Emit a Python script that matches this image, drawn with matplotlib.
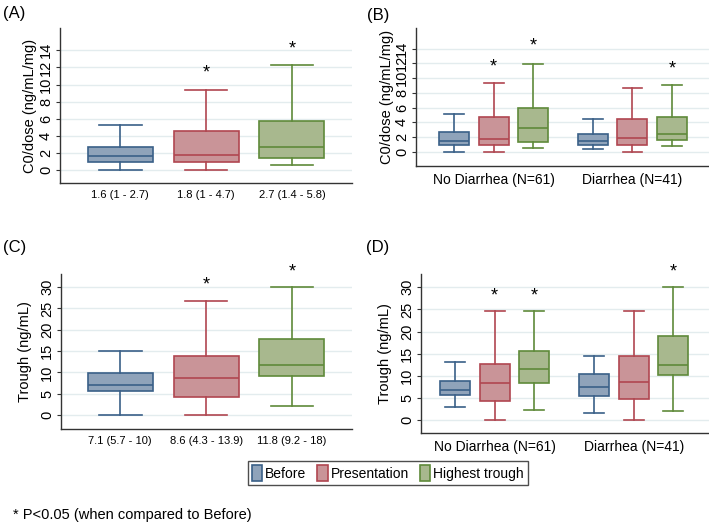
import matplotlib
matplotlib.use('Agg')
import matplotlib.pyplot as plt
from matplotlib.patches import Patch
from matplotlib.transforms import ScaledTranslation

plt.rcParams['font.family'] = ['Liberation Sans', 'DejaVu Sans']

# box stats: (whislo, q1, med, q3, whishi)
series = ['Before', 'Presentation', 'Highest trough']
fills = ['#8fa3ba', '#c99498', '#a8b88e']
edges = ['#3a6088', '#b04650', '#5f8a3a']

a_labels = ['1.6 (1 - 2.7)', '1.8 (1 - 4.7)', '2.7 (1.4 - 5.8)']
a_stats = [(0, 0.97, 1.6, 2.76, 5.25),
           (0, 1.0, 1.8, 4.6, 9.4),
           (0.6, 1.4, 2.7, 5.8, 12.3)]
a_stars = [None, 11.3, 14.1]

groups = ['No Diarrhea (N=61)', 'Diarrhea (N=41)']
b_stats = [[(0, 1.0, 1.5, 2.7, 5.2), (0, 0.9, 1.7, 4.8, 9.4), (0.6, 1.4, 3.3, 5.9, 11.9)],
           [(0.4, 1.0, 1.5, 2.5, 4.4), (0, 1.0, 1.9, 4.5, 8.6), (0.8, 1.6, 2.5, 4.8, 9.1)]]
b_stars = [[None, 11.5, 14.3], [None, None, 11.3]]

c_labels = ['7.1 (5.7 - 10)', '8.6 (4.3 - 13.9)', '11.8 (9.2 - 18)']
c_stats = [(0, 5.7, 7.0, 9.9, 15.0),
           (0, 4.3, 8.6, 13.9, 26.8),
           (2.0, 9.2, 11.7, 17.9, 30.0)]
c_stars = [None, 30.5, 33.6]

d_stats = [[(2.9, 5.8, 6.9, 8.8, 13.1), (0, 4.3, 8.5, 12.7, 24.6), (2.3, 8.5, 11.5, 15.6, 24.6)],
           [(1.7, 5.5, 7.5, 10.5, 14.4), (0, 4.7, 8.6, 14.6, 24.6), (2.0, 10.2, 12.4, 19.1, 30.0)]]
d_stars = [[None, 28.1, 28.1], [None, None, 33.5]]

c0_ticks = [0, 2, 4, 6, 8, 10, 12, 14]
trough_ticks = [0, 5, 10, 15, 20, 25, 30]


def to_dict(s):
    return dict(whislo=s[0], q1=s[1], med=s[2], q3=s[3], whishi=s[4], fliers=[])


def draw_box(ax, pos, s, k, width):
    b = ax.bxp([to_dict(s)], positions=[pos], widths=width, capwidths=width * 0.66,
               patch_artist=True, showfliers=False, manage_ticks=False)
    for p in b['boxes']:
        p.set_facecolor(fills[k])
        p.set_edgecolor(edges[k])
        p.set_linewidth(1.2)
    for key in ['whiskers', 'caps', 'medians']:
        for ln in b[key]:
            ln.set_color(edges[k])
            ln.set_linewidth(1.2)


def star(ax, x, y):
    ax.text(x, y, '*', ha='center', va='center', fontsize=13, clip_on=False)


def style(ax, ticks, ylim, xlim, ylabel, label_x):
    ax.set_ylim(*ylim)
    ax.set_xlim(*xlim)
    ax.set_yticks(ticks)
    ax.set_yticklabels([str(t) for t in ticks], rotation=90, va='center', fontsize=10.5)
    ax.set_ylabel(ylabel, fontsize=10.5)
    ax.yaxis.set_label_coords(label_x, 0.5)
    for t in ticks:
        ax.axhline(t, color='#e3ecee', lw=1, zorder=0)
    for sp in ['top', 'right']:
        ax.spines[sp].set_visible(False)
    for sp in ['left', 'bottom']:
        ax.spines[sp].set_color('#333333')
        ax.spines[sp].set_linewidth(1)
    ax.tick_params(axis='y', length=3, width=0.8, color='#333333', pad=2)
    ax.tick_params(axis='x', length=0, pad=5)


fig = plt.figure(figsize=(7.09, 5.23), dpi=100)
axA = fig.add_axes([0.0846, 0.650, 0.412, 0.2965])
axB = fig.add_axes([0.5867, 0.6826, 0.413, 0.264])
axC = fig.add_axes([0.086, 0.1797, 0.4105, 0.2964])
axD = fig.add_axes([0.5938, 0.172, 0.406, 0.3041])

# single-group panels
shift = ScaledTranslation(-0.09, 0, fig.dpi_scale_trans)
for ax, stats, stars, labels in [(axA, a_stats, a_stars, a_labels), (axC, c_stats, c_stars, c_labels)]:
    for k, s in enumerate(stats):
        draw_box(ax, k + 1, s, k, 0.756)
        if stars[k] is not None:
            star(ax, k + 1, stars[k])
    ax.set_xticks([1, 2, 3])
    ax.set_xticklabels(labels, fontsize=8)
    for lab in ax.get_xticklabels():
        lab.set_transform(lab.get_transform() + shift)

# grouped panels
off = [-0.285, 0, 0.285]
for ax, stats, stars in [(axB, b_stats, b_stars), (axD, d_stats, d_stars)]:
    for g in range(2):
        for k in range(3):
            draw_box(ax, g + 1 + off[k], stats[g][k], k, 0.216)
            if stars[g][k] is not None:
                star(ax, g + 1 + off[k], stars[g][k])
    ax.set_xticks([1, 2])
    ax.set_xticklabels(groups, fontsize=10)

style(axA, c0_ticks, (-1.5, 16.6), (0.30, 3.70), 'C0/dose (ng/mL/mg)', -0.078)
style(axB, c0_ticks, (-1.9, 16.8), (0.44, 2.55), 'C0/dose (ng/mL/mg)', -0.075)
style(axC, trough_ticks, (-3.3, 33.1), (0.31, 3.70), 'Trough (ng/mL)', -0.098)
style(axD, trough_ticks, (-2.9, 33.0), (0.47, 2.54), 'Trough (ng/mL)', -0.10)

fig.text(0.004, 0.975, '(A)', fontsize=12, va='center')
fig.text(0.518, 0.970, '(B)', fontsize=12, va='center')
fig.text(0.004, 0.526, '(C)', fontsize=12, va='center')
fig.text(0.516, 0.526, '(D)', fontsize=12, va='center')

handles = [Patch(facecolor=fills[k], edgecolor=edges[k], linewidth=1.2) for k in range(3)]
leg = fig.legend(handles, series, loc='center', bbox_to_anchor=(0.547, 0.0956), ncol=3,
                 fontsize=10, frameon=True, fancybox=False, edgecolor='#222222',
                 handlelength=0.75, handleheight=1.4, handletextpad=0.2, columnspacing=0.8,
                 borderpad=0.3, borderaxespad=0)
leg.get_frame().set_linewidth(1)

fig.text(0.018, 0.016, '* P<0.05 (when compared to Before)', fontsize=10.5, va='center')

fig.savefig('out.png', dpi=100)
